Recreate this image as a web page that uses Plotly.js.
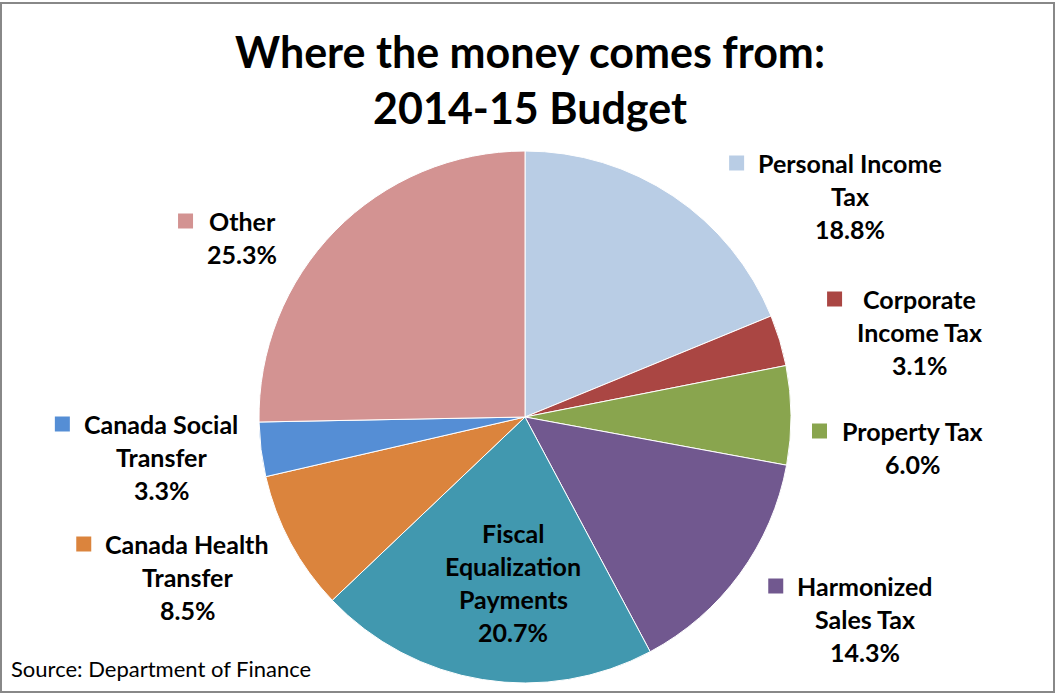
<!DOCTYPE html>
<html>
<head>
<meta charset="utf-8">
<script src="https://cdn.plot.ly/plotly-3.0.1.min.js"></script>
<style>
  html, body { margin: 0; padding: 0; background: #fff; }
  #chart { width: 1056px; height: 694px; }
</style>
</head>
<body>
<div id="chart"></div>
<script>
// ---- data ----
const categories = ["Personal Income Tax", "Corporate Income Tax", "Property Tax", "Harmonized Sales Tax",
                    "Fiscal Equalization Payments", "Canada Health Transfer", "Canada Social Transfer", "Other"];
const values = [18.8, 3.1, 6.0, 14.3, 20.7, 8.5, 3.3, 25.3];
// label text as wrapped in the reference
const wrappedLabels = ["Personal Income<br>Tax", "Corporate<br>Income Tax", "Property Tax", "Harmonized<br>Sales Tax",
                       "Fiscal<br>Equalization<br>Payments", "Canada Health<br>Transfer", "Canada Social<br>Transfer", "Other"];
const sliceColors = ["#B9CDE5", "#AA4643", "#89A54E", "#71588F", "#4198AF", "#DB843D", "#558ED5", "#D39392"];
const titleText = "Where the money comes from:<br>2014-15 Budget";
const sourceText = "Source: Department of Finance";

// ---- layout configuration (pixel placement of data labels, Excel-style) ----
const W = 1056, H = 694;
const labelPlacement = [
  {cx: 850, cy: 163, inside: false},
  {cx: 919, cy: 299, inside: false},
  {cx: 912, cy: 431, inside: false},
  {cx: 865, cy: 586, inside: false},
  {cx: 513, cy: 533, inside: true},
  {cx: 187, cy: 544, inside: false},
  {cx: 161, cy: 424, inside: false},
  {cx: 242, cy: 221, inside: false}
];
const FONT = "Lato";
const labelSize = 25;
const lineGap = 33;
const keySize = 15, keyGap = 14;

const X = px => px / W;
const Y = py => 1 - py / H;

const ctx = document.createElement("canvas").getContext("2d");
ctx.font = "bold " + labelSize + "px " + FONT;

const annotations = [];
const shapes = [];

categories.forEach((cat, i) => {
  const p = labelPlacement[i];
  const lines = wrappedLabels[i].split("<br>").concat([values[i].toFixed(1) + "%"]);
  let maxW = 0;
  lines.forEach((ln, k) => {
    maxW = Math.max(maxW, ctx.measureText(ln).width);
    annotations.push({
      text: "<b>" + ln + "</b>", xref: "paper", yref: "paper",
      x: X(p.cx), y: Y(p.cy + k * lineGap), xanchor: "center", yanchor: "middle",
      showarrow: false, font: {family: FONT, size: labelSize, color: "#000"}
    });
  });
  if (!p.inside) {
    const right = p.cx - maxW / 2 - keyGap;
    shapes.push({
      type: "rect", xref: "paper", yref: "paper",
      x0: X(right - keySize), x1: X(right), y0: Y(p.cy + keySize / 2), y1: Y(p.cy - keySize / 2),
      fillcolor: sliceColors[i], line: {width: 0}
    });
  }
});

annotations.push({
  text: sourceText, xref: "paper", yref: "paper", x: X(9), y: Y(668),
  xanchor: "left", yanchor: "middle", showarrow: false,
  font: {family: FONT, size: 22, color: "#000"}
});

// chart border
shapes.push({
  type: "rect", xref: "paper", yref: "paper",
  x0: X(1), x1: X(1054), y0: Y(692), y1: Y(3),
  line: {color: "#888888", width: 2}, fillcolor: "rgba(0,0,0,0)"
});

const trace = {
  type: "pie",
  labels: categories,
  values: values,
  sort: false,
  direction: "clockwise",
  rotation: 0,
  textinfo: "none",
  hoverinfo: "label+percent",
  marker: {colors: sliceColors, line: {color: "#ffffff", width: 1}},
  domain: {x: [X(259), X(791)], y: [Y(683), Y(151)]},
  showlegend: false
};

const layout = {
  width: W, height: H,
  margin: {l: 0, r: 0, t: 0, b: 0},
  paper_bgcolor: "#ffffff",
  plot_bgcolor: "#ffffff",
  title: {
    text: "<b>" + titleText + "</b>",
    font: {family: FONT, size: 43, color: "#000"},
    x: 530 / W, xanchor: "center",
    yref: "container", y: Y(68), yanchor: "top"
  },
  annotations: annotations,
  shapes: shapes,
  showlegend: false
};

Plotly.newPlot("chart", [trace], layout, {displayModeBar: false});
</script>
</body>
</html>
